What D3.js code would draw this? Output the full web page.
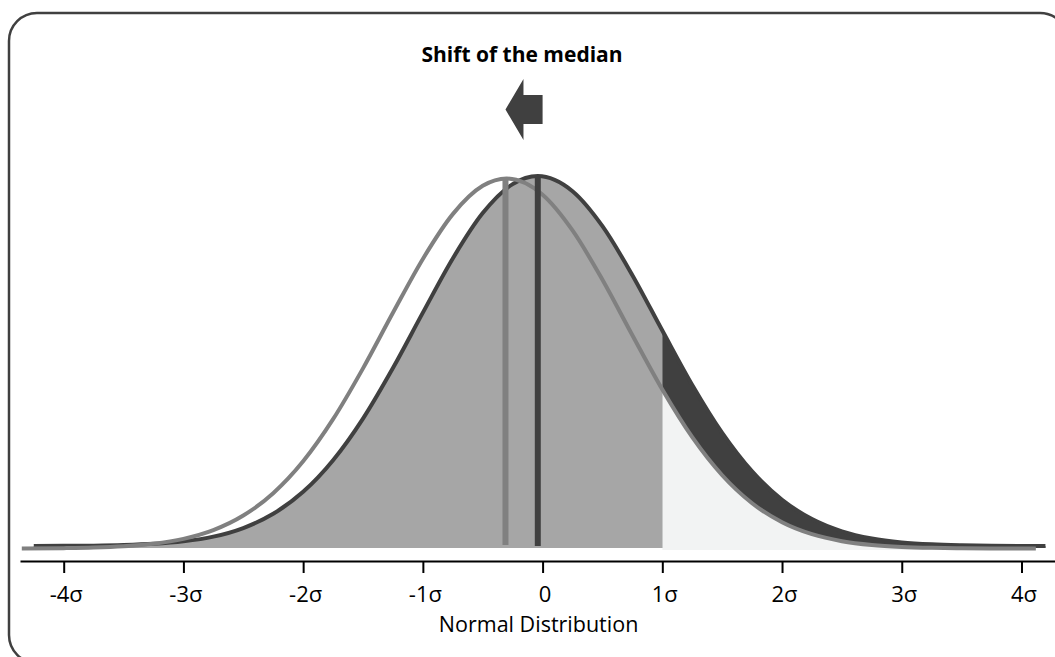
<!DOCTYPE html>
<html>
<head>
<meta charset="utf-8">
<script src="https://cdn.jsdelivr.net/npm/d3@7"></script>
<style>
body { margin: 0; background: #fff; }
svg { display: block; font-family: "Open Sans", sans-serif; }
</style>
</head>
<body>
<svg width="1055" height="657"></svg>
<script>
// curve samples: x in sigma, y = density
var blackX = [-4.25,-4,-3.75,-3.5,-3.25,-3,-2.75,-2.5,-2.25,-2,-1.75,-1.5,-1.25,-1,-0.75,-0.5,-0.25,-0.04,
              0.25,0.5,0.75,1,1.25,1.5,1.75,2,2.25,2.5,2.75,3,3.25,3.5,3.75,4,4.2];
var blackY = [0.0001,0.0002,0.0004,0.0010,0.0023,0.0050,0.0101,0.0194,0.0347,0.0584,0.0925,0.1374,0.1919,0.2516,0.3100,0.3589,0.3902,0.3989,
              0.3825,0.3448,0.2920,0.2323,0.1736,0.1219,0.0804,0.0498,0.0290,0.0158,0.0081,0.0039,0.0018,0.0008,0.0003,0.0001,0.0001];
var grayX = [-4.35,-4,-3.75,-3.5,-3.25,-3,-2.75,-2.5,-2.25,-2,-1.75,-1.5,-1.25,-1,-0.75,-0.5,-0.3,
             0,0.25,0.5,0.75,1,1.25,1.5,1.75,2,2.25,2.5,2.75,3,3.25,3.5,3.75,4.12];
var grayY = [0.0001,0.0004,0.0010,0.0024,0.0051,0.0104,0.0198,0.0355,0.0596,0.0940,0.1394,0.1942,0.2541,0.3122,0.3605,0.3910,0.3989,
             0.3814,0.3429,0.2897,0.2299,0.1714,0.1200,0.0790,0.0488,0.0283,0.0154,0.0079,0.0038,0.0017,0.0007,0.0003,0.0001,0.0000];
var medians = [-0.04, -0.31];   // before, after the shift
var cutoff = 1;                 // shading changes at 1 sigma
var tickValues = [-4,-3,-2,-1,0,1,2,3,4];
var tickLabels = ["-4σ","-3σ","-2σ","-1σ","0","1σ","2σ","3σ","4σ"];
var title = "Shift of the median";
var xTitle = "Normal Distribution";

var svg = d3.select("svg");
var W = 1055, H = 657;
var base = 548;   // bottom of the shaded areas
var drop = 2.5;   // grey curve sits a bit lower

var x = d3.scaleLinear().domain([-4.365, 4.28]).range([20, 1055]);
var y = d3.scaleLinear().domain([0, 0.4]).range([546, 175]);

var black = blackX.map(function(v, i) { return {x: v, y: blackY[i]}; });
var gray = grayX.map(function(v, i) { return {x: v, y: grayY[i]}; });

// frame
svg.append("rect")
  .attr("x", 9).attr("y", 13)
  .attr("width", 1059).attr("height", 650)
  .attr("rx", 28)
  .attr("fill", "none")
  .attr("stroke", "#404040")
  .attr("stroke-width", 2.5);

var defs = svg.append("defs");
defs.append("clipPath").attr("id", "left")
  .append("rect").attr("x", 0).attr("y", 0).attr("width", x(cutoff)).attr("height", H);
defs.append("clipPath").attr("id", "right")
  .append("rect").attr("x", x(cutoff)).attr("y", 0).attr("width", W - x(cutoff)).attr("height", H);

var areaB = d3.area()
  .x(function(d) { return x(d.x); })
  .y0(base)
  .y1(function(d) { return y(d.y); })
  .curve(d3.curveMonotoneX);
var areaG = d3.area()
  .x(function(d) { return x(d.x); })
  .y0(base + 2)
  .y1(function(d) { return y(d.y) + drop; })
  .curve(d3.curveMonotoneX);
var lineB = d3.line()
  .x(function(d) { return x(d.x); })
  .y(function(d) { return y(d.y); })
  .curve(d3.curveMonotoneX);
var lineG = d3.line()
  .x(function(d) { return x(d.x); })
  .y(function(d) { return y(d.y) + drop; })
  .curve(d3.curveMonotoneX);

svg.append("path").datum(black).attr("d", areaB)
  .attr("fill", "#a6a6a6").attr("clip-path", "url(#left)");
svg.append("path").datum(black).attr("d", areaB)
  .attr("fill", "#404040").attr("clip-path", "url(#right)");
svg.append("path").datum(gray).attr("d", areaG)
  .attr("fill", "#f2f3f3").attr("clip-path", "url(#right)");

svg.append("path").datum(black).attr("d", lineB)
  .attr("fill", "none").attr("stroke", "#404040").attr("stroke-width", 4);
svg.append("path").datum(gray).attr("d", lineG)
  .attr("fill", "none").attr("stroke", "#808080").attr("stroke-width", 4);

// median lines
var peak = d3.max(blackY);
svg.append("line")
  .attr("x1", x(medians[1])).attr("x2", x(medians[1]))
  .attr("y1", y(peak) + drop).attr("y2", base - 3)
  .attr("stroke", "#808080").attr("stroke-width", 6);
svg.append("line")
  .attr("x1", x(medians[0])).attr("x2", x(medians[0]))
  .attr("y1", y(peak)).attr("y2", base - 2)
  .attr("stroke", "#404040").attr("stroke-width", 6);

// axis
var axis = d3.axisBottom(x)
  .tickValues(tickValues)
  .tickFormat(function(d, i) { return tickLabels[i]; })
  .tickSize(12)
  .tickSizeOuter(0);
var gx = svg.append("g").attr("transform", "translate(0,561)").call(axis);
gx.select(".domain").attr("stroke", "#000").attr("stroke-width", 2);
gx.selectAll(".tick line").attr("stroke", "#000").attr("stroke-width", 2);
gx.selectAll(".tick text")
  .attr("x", 2)
  .attr("y", 41).attr("dy", 0)
  .attr("fill", "#000")
  .style("font-size", "22px")
  .style("font-family", "'Open Sans', sans-serif");

svg.append("text")
  .attr("x", x(0) - 4).attr("y", 632)
  .attr("text-anchor", "middle")
  .style("font-size", "21.5px")
  .text(xTitle);

// arrow + title
var tip = x(medians[1]), tail = x(0), ay = 109.5;
var arrow = [[tip, ay], [tip + 18, ay - 30.5], [tip + 18, ay - 14.5], [tail, ay - 14.5],
             [tail, ay + 14.5], [tip + 18, ay + 14.5], [tip + 18, ay + 30.5]];
svg.append("polygon")
  .attr("points", arrow.map(function(p) { return p.join(","); }).join(" "))
  .attr("fill", "#404040");

svg.append("text")
  .attr("x", (tip + tail) / 2 - 2).attr("y", 62)
  .attr("text-anchor", "middle")
  .style("font-size", "21px")
  .style("font-weight", "bold")
  .text(title);
</script>
</body>
</html>
